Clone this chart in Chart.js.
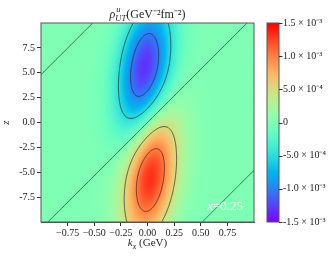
<!DOCTYPE html>
<html>
<head>
<meta charset="utf-8">
<script src="https://cdn.jsdelivr.net/npm/chart.js@4"></script>
<style>
  html, body { margin: 0; padding: 0; background: #fff; }
  #wrap { width: 335px; height: 258px; }
</style>
</head>
<body>
<div id="wrap"><canvas id="rho"></canvas></div>
<script>
// axis ranges and ticks
const kRange = [-1, 1];
const zRange = [-10, 10];
const kTicks = [-0.75, -0.5, -0.25, 0, 0.25, 0.5, 0.75];
const zTicks = [-7.5, -5, -2.5, 0, 2.5, 5, 7.5];
const cbTicks = [-1.5e-3, -1e-3, -5e-4, 0, 5e-4, 1e-3, 1.5e-3];
const cbLabels = ['-1.5 × 10⁻³', '-1.0 × 10⁻³', '-5.0 × 10⁻⁴', '0', '5.0 × 10⁻⁴', '1.0 × 10⁻³', '1.5 × 10⁻³'];
const contourLevels = [-1e-3, -5e-4, 0, 5e-4, 1e-3];

// field: dipole with tilted nodal lines
const peakValue = 1.32e-3;  // |rho| at the blob centres
const nodeSlope = 10.7;     // dz/dk of the nodal lines
const nodeSpacing = 15.5;   // z distance between nodal lines
const widthK = 0.18;
const widthZ = 8.5;

const FONT = '"Liberation Serif", "Times New Roman", serif';

function rawField(k, z) {
  const t = z - nodeSlope * k;
  return -Math.sin(Math.PI * t / nodeSpacing) *
    Math.exp(-k * k / (2 * widthK * widthK) - z * z / (2 * widthZ * widthZ));
}

// normalise so the extremes hit peakValue
let rawMax = 0;
for (let i = 0; i <= 200; i++) {
  for (let j = 0; j <= 200; j++) {
    const k = kRange[0] + (kRange[1] - kRange[0]) * i / 200;
    const z = zRange[0] + (zRange[1] - zRange[0]) * j / 200;
    rawMax = Math.max(rawMax, Math.abs(rawField(k, z)));
  }
}
const fieldScale = peakValue / rawMax;
const field = (k, z) => rawField(k, z) * fieldScale;

// matplotlib "rainbow"
function rainbow(x) {
  x = Math.min(1, Math.max(0, x));
  const r = Math.min(1, Math.abs(2 * x - 0.5));
  const g = Math.sin(Math.PI * x);
  const b = Math.cos(Math.PI * x / 2);
  return [Math.round(r * 255), Math.round(g * 255), Math.round(b * 255)];
}

const heatmap = {
  id: 'heatmap',
  beforeDatasetsDraw(chart) {
    const { ctx, chartArea: a, scales } = chart;
    const xs = scales.x, ys = scales.y, cb = scales.cb;
    const w = Math.round(a.right - a.left), h = Math.round(a.bottom - a.top);
    const img = ctx.createImageData(w, h);
    for (let j = 0; j < h; j++) {
      const z = ys.getValueForPixel(a.top + j + 0.5);
      for (let i = 0; i < w; i++) {
        const k = xs.getValueForPixel(a.left + i + 0.5);
        const v = field(k, z);
        const c = rainbow((v - cb.min) / (cb.max - cb.min));
        const p = (j * w + i) * 4;
        img.data[p] = c[0]; img.data[p + 1] = c[1]; img.data[p + 2] = c[2]; img.data[p + 3] = 255;
      }
    }
    ctx.putImageData(img, Math.round(a.left), Math.round(a.top));

    // contour lines, marching squares
    const N = 220;
    const ks = [], zs = [], grid = [];
    for (let i = 0; i <= N; i++) ks.push(kRange[0] + (kRange[1] - kRange[0]) * i / N);
    for (let j = 0; j <= N; j++) zs.push(zRange[0] + (zRange[1] - zRange[0]) * j / N);
    for (let j = 0; j <= N; j++) grid.push(ks.map(k => field(k, zs[j])));

    ctx.save();
    ctx.beginPath();
    ctx.rect(a.left, a.top, a.right - a.left, a.bottom - a.top);
    ctx.clip();
    ctx.strokeStyle = 'rgba(35,35,35,0.85)';
    ctx.lineWidth = 0.8;
    ctx.beginPath();
    const P = (k, z) => [xs.getPixelForValue(k), ys.getPixelForValue(z)];
    contourLevels.forEach(lv => {
      for (let j = 0; j < N; j++) {
        for (let i = 0; i < N; i++) {
          const v0 = grid[j][i], v1 = grid[j][i + 1], v2 = grid[j + 1][i + 1], v3 = grid[j + 1][i];
          const pts = [];
          const edge = (va, vb, ka, za, kb, zb) => {
            if ((va < lv) !== (vb < lv)) {
              const t = (lv - va) / (vb - va);
              pts.push(P(ka + (kb - ka) * t, za + (zb - za) * t));
            }
          };
          edge(v0, v1, ks[i], zs[j], ks[i + 1], zs[j]);
          edge(v1, v2, ks[i + 1], zs[j], ks[i + 1], zs[j + 1]);
          edge(v2, v3, ks[i + 1], zs[j + 1], ks[i], zs[j + 1]);
          edge(v3, v0, ks[i], zs[j + 1], ks[i], zs[j]);
          for (let n = 0; n + 1 < pts.length; n += 2) {
            ctx.moveTo(pts[n][0], pts[n][1]);
            ctx.lineTo(pts[n + 1][0], pts[n + 1][1]);
          }
        }
      }
    });
    ctx.stroke();

    // annotation
    const tx = xs.getPixelForValue(0.56), ty = ys.getPixelForValue(-8.8);
    ctx.fillStyle = '#fff';
    ctx.textBaseline = 'alphabetic';
    ctx.textAlign = 'left';
    ctx.font = 'italic 13px ' + FONT;
    ctx.fillText('x', tx, ty);
    const xw = ctx.measureText('x').width;
    ctx.font = '13px ' + FONT;
    ctx.fillText('=0.25', tx + xw, ty);
    ctx.restore();

    // frame
    ctx.save();
    ctx.strokeStyle = '#555';
    ctx.lineWidth = 1;
    ctx.strokeRect(a.left, a.top, a.right - a.left, a.bottom - a.top);
    ctx.restore();
  }
};

const colorbar = {
  id: 'colorbar',
  afterDraw(chart) {
    const { ctx, scales } = chart;
    const cb = scales.cb;
    const x0 = cb.left + 13, bw = 12;
    const yTop = cb.getPixelForValue(cb.max), yBot = cb.getPixelForValue(cb.min);
    for (let y = Math.floor(yTop); y < yBot; y++) {
      const v = cb.getValueForPixel(y + 0.5);
      const c = rainbow((v - cb.min) / (cb.max - cb.min));
      ctx.fillStyle = `rgb(${c[0]},${c[1]},${c[2]})`;
      ctx.fillRect(x0, y, bw, 1);
    }
    ctx.strokeStyle = '#555';
    ctx.lineWidth = 1;
    ctx.strokeRect(x0, yTop, bw, yBot - yTop);
    ctx.strokeStyle = '#333';
    ctx.beginPath();
    cbTicks.forEach(v => {
      const y = Math.round(cb.getPixelForValue(v)) + 0.5;
      ctx.moveTo(x0 + bw, y);
      ctx.lineTo(x0 + bw + 3.5, y);
    });
    ctx.stroke();

    // title and x label
    const a = chart.chartArea;
    const cx = (a.left + a.right) / 2;
    ctx.fillStyle = '#222';
    ctx.textBaseline = 'alphabetic';
    ctx.textAlign = 'left';
    const parts = [
      ['ρ', 'italic 12px', 0],
      ['u', 'italic 8.5px', -6],
      ['UT', 'italic 8.5px', 3],
      ['(GeV', '12px', 0],
      ['⁻²', '12px', 0],
      ['fm', '12px', 0],
      ['⁻²', '12px', 0],
      [')', '12px', 0]
    ];
    let widths = parts.map(p => { ctx.font = p[1] + ' ' + FONT; return ctx.measureText(p[0]).width; });
    // u and UT share the same horizontal slot
    const total = widths.reduce((s, w, i) => s + (i === 1 ? 0 : w), 0);
    let px = cx - total / 2;
    parts.forEach((p, i) => {
      ctx.font = p[1] + ' ' + FONT;
      ctx.fillText(p[0], i === 1 ? px + 1 : px, 18 + p[2]);
      if (i !== 1) px += widths[i];
    });

    const lx = [['k', 'italic 11px', 0], ['x', 'italic 8px', 2.5], [' (GeV)', '11px', 0]];
    widths = lx.map(p => { ctx.font = p[1] + ' ' + FONT; return ctx.measureText(p[0]).width; });
    px = cx - widths.reduce((s, w) => s + w, 0) / 2;
    lx.forEach((p, i) => {
      ctx.font = p[1] + ' ' + FONT;
      ctx.fillText(p[0], px, 246 + p[2]);
      px += widths[i];
    });
  }
};

const tickFont = { family: FONT, size: 10 };
const minus = v => (v < 0 ? '−' : '') + Math.abs(v).toFixed(2);

new Chart(document.getElementById('rho'), {
  type: 'scatter',
  data: { datasets: [] },
  options: {
    responsive: true,
    maintainAspectRatio: false,
    animation: false,
    devicePixelRatio: 1,
    layout: { padding: { top: 23, bottom: 0, left: 0, right: 0 } },
    plugins: { legend: { display: false }, tooltip: { enabled: false } },
    scales: {
      x: {
        type: 'linear', position: 'bottom', min: kRange[0], max: kRange[1],
        afterBuildTicks: s => { s.ticks = kTicks.map(v => ({ value: v })); },
        afterFit: s => { s.height = 36; },
        ticks: { font: tickFont, color: '#222', padding: 1, maxRotation: 0, autoSkip: false, callback: v => minus(v) },
        grid: { drawOnChartArea: false, tickLength: 4, color: '#333' },
        border: { color: '#555' }
      },
      y: {
        type: 'linear', position: 'left', min: zRange[0], max: zRange[1],
        afterBuildTicks: s => { s.ticks = zTicks.map(v => ({ value: v })); },
        afterFit: s => { s.width = 41; },
        ticks: { font: tickFont, color: '#222', padding: 2, autoSkip: false, callback: v => v.toFixed(1) },
        grid: { drawOnChartArea: false, tickLength: 4, color: '#333' },
        border: { color: '#555' },
        title: { display: true, text: 'z', font: { family: FONT, size: 11, style: 'italic' }, color: '#222', padding: 0 }
      },
      cb: {
        type: 'linear', position: 'right', min: cbTicks[0], max: cbTicks[cbTicks.length - 1],
        afterBuildTicks: s => { s.ticks = cbTicks.map(v => ({ value: v })); },
        afterFit: s => { s.width = 81; },
        ticks: {
          font: tickFont, color: '#222', padding: 1, autoSkip: false,
          callback: (v, i) => cbLabels[i]
        },
        // invisible tick marks push the labels past the colour bar
        grid: { display: true, drawOnChartArea: false, drawTicks: true, tickLength: 28, color: 'rgba(0,0,0,0)' },
        border: { display: false }
      }
    }
  },
  plugins: [heatmap, colorbar]
});
</script>
</body>
</html>
